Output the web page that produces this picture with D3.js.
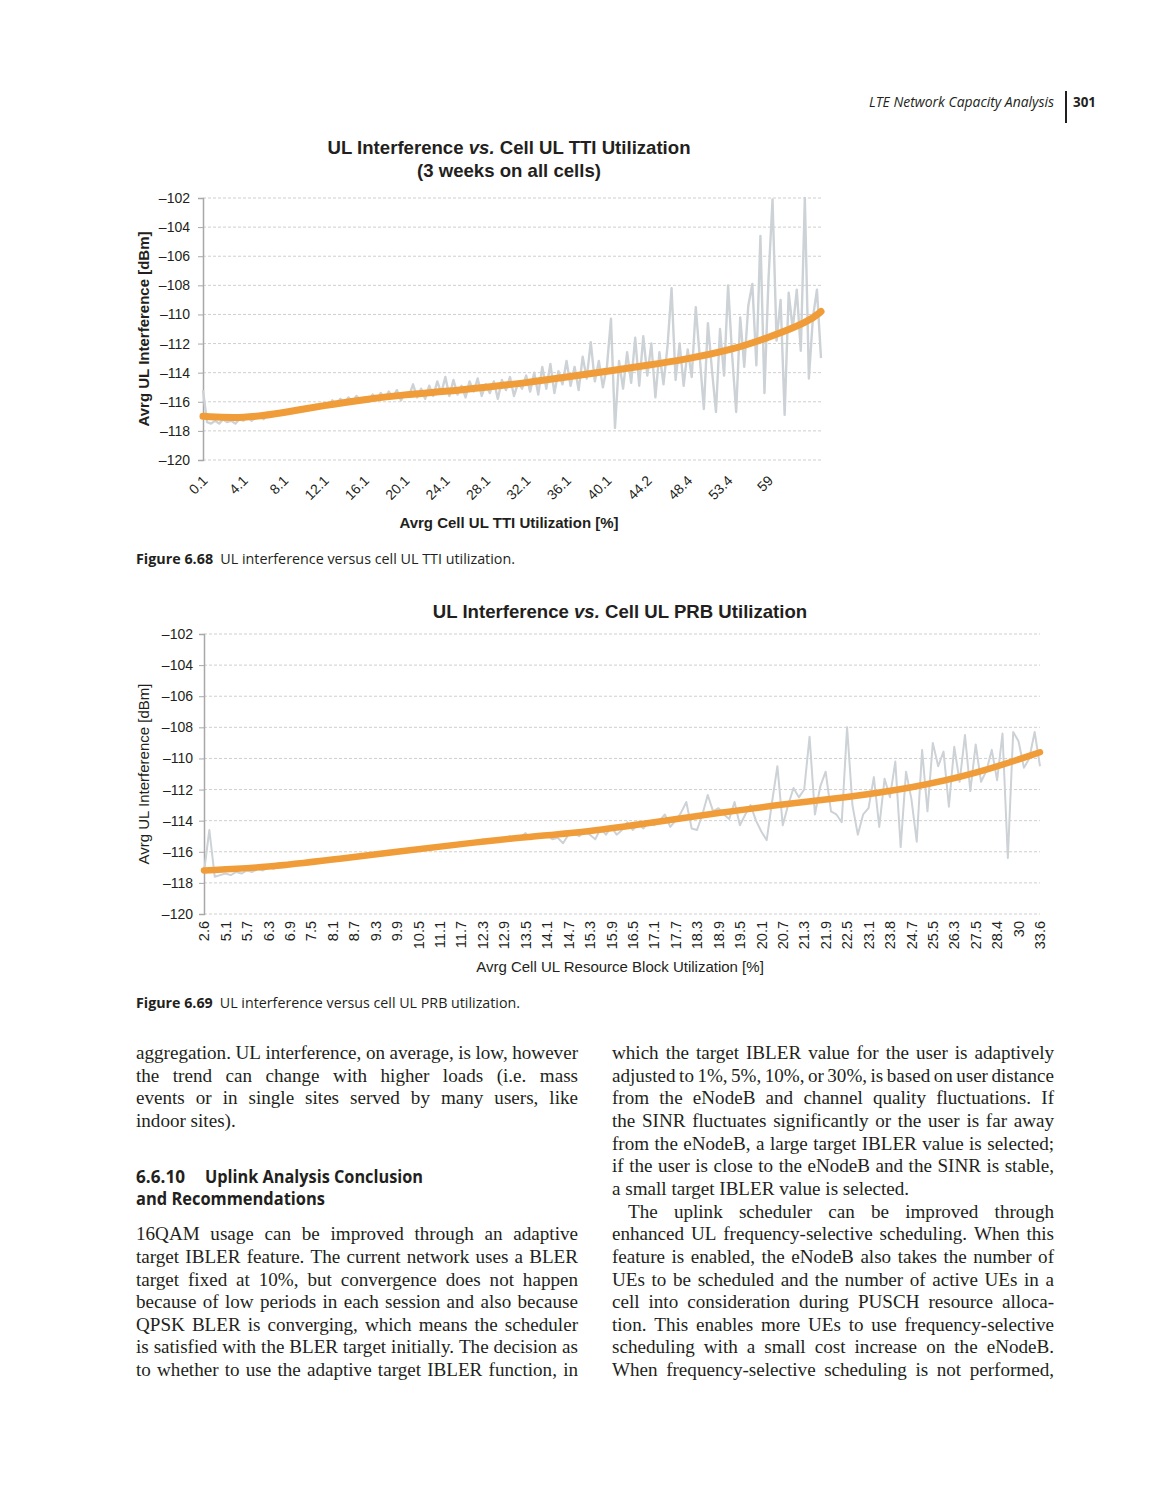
<!DOCTYPE html>
<html>
<head>
<meta charset="utf-8">
<script src="https://cdn.jsdelivr.net/npm/d3@7"></script>
<style>
  body { margin: 0; background: #fff; }
  text { fill: #231f20; }
  .chart text { font-family: "Liberation Sans", Arial, sans-serif; }
  .body { font-family: "Liberation Serif", serif; font-size: 19.1px; }
  .sans { font-family: "Open Sans", sans-serif; }
</style>
</head>
<body>
<svg id="page" width="1161" height="1500"></svg>
<script>
// ---- chart 1: UL interference vs. cell UL TTI utilization ----
const ttiLabels = ["0.1","4.1","8.1","12.1","16.1","20.1","24.1","28.1","32.1","36.1","40.1","44.2","48.4","53.4","59"];
const ttiStep = 10; // samples between two labelled categories
const ttiNoise = [
  -115.2, -117.4, -117.5, -117.3, -117.5, -117.2, -117.4, -117.3, -117.5, -117.2, -117.3,
  -117.0, -117.3, -117.1, -116.9, -117.2, -116.8, -117.0, -116.7, -116.9, -116.6,
  -116.8, -116.5, -116.7, -116.4, -116.6, -116.3, -116.5, -116.2, -116.4, -116.1,
  -116.3, -115.9, -116.2, -115.8, -116.1, -115.7, -116.0, -115.6, -115.9, -115.7,
  -116.0, -115.5, -115.9, -115.4, -115.8, -115.3, -115.7, -115.2, -115.9, -115.4,
  -115.6, -114.8, -115.7, -115.1, -115.8, -114.9, -115.6, -114.6, -115.4, -114.3,
  -115.6, -114.5, -115.5, -114.9, -115.7, -114.6, -115.3, -114.4, -115.6, -114.8,
  -115.4, -114.6, -115.8, -114.5, -115.2, -114.3, -115.6, -114.7, -115.1, -114.2,
  -115.3, -114.0, -115.5, -113.6, -115.1, -113.4, -115.4, -113.9, -114.8, -113.2,
  -114.9, -113.6, -115.2, -112.9, -114.4, -111.9, -114.6, -113.2, -115.0, -113.6,
  -110.3, -117.8,
  -113.2, -115.1, -112.6, -114.7, -111.6, -114.9, -111.5, -114.2, -112.0, -115.7,
  -112.6, -114.8, -112.2, -108.2, -114.5, -112.0, -114.9, -112.4, -114.3, -109.5,
  -113.0, -116.5, -110.6, -113.8, -116.7, -111.0, -114.2, -108.0, -112.8, -116.7,
  -110.2, -113.6, -109.4, -107.9, -113.5, -104.6, -115.4, -107.6, -102.1, -111.8,
  -109.0, -116.9, -108.5, -111.0, -108.3, -112.5, -102.0, -114.4, -110.2, -108.3,
  -113.0
];
const ttiTrendAt = [0, 10, 20, 30, 40, 50, 60, 70, 80, 90, 100, 110, 120, 130, 140, 150, 153];
const ttiTrend = [-117.0, -117.15, -116.75, -116.25, -115.85, -115.5, -115.3, -115.0, -114.7,
                  -114.3, -113.9, -113.5, -113.05, -112.5, -111.6, -110.5, -109.8];

// ---- chart 2: UL interference vs. cell UL PRB utilization ----
const prbLabels = ["2.6","5.1","5.7","6.3","6.9","7.5","8.1","8.7","9.3","9.9","10.5","11.1","11.7","12.3",
                   "12.9","13.5","14.1","14.7","15.3","15.9","16.5","17.1","17.7","18.3","18.9","19.5","20.1",
                   "20.7","21.3","21.9","22.5","23.1","23.8","24.7","25.5","26.3","27.5","28.4","30","33.6"];
const prbStep = 4;
const prbNoise = [
  -117.3, -114.6, -117.6, -117.5, -117.4, -117.5, -117.3, -117.4, -117.2, -117.3, -117.1, -117.2,
  -117.0, -117.1, -116.9, -117.0, -116.8, -116.9, -116.7, -116.8, -116.6, -116.7, -116.5, -116.6,
  -116.4, -116.5, -116.3, -116.4, -116.3, -116.3, -116.2, -116.2, -116.1, -116.2, -116.0, -116.1,
  -115.9, -116.0, -115.8, -115.9, -115.8, -115.7, -115.8, -115.6, -115.7, -115.6, -115.5, -115.6,
  -115.4, -115.5, -115.3, -115.4, -115.2, -115.4, -115.3, -115.1, -115.3, -115.0, -115.2, -115.1,
  -114.8, -115.2, -115.0, -115.1, -114.9, -115.2, -115.1, -115.45, -114.9, -114.8, -115.0, -114.7,
  -114.9, -115.2, -114.5, -114.9, -114.4, -114.9, -114.6, -114.1, -114.6, -114.2, -114.5, -114.1,
  -114.3, -114.0, -113.6, -114.4, -114.0, -113.5, -112.8, -114.5, -114.6, -113.6, -112.35, -113.4,
  -113.2, -113.6, -113.9, -112.8, -114.3, -113.6, -113.0, -114.0, -114.7, -115.25, -112.8, -110.5,
  -114.3, -113.0, -111.9, -112.5, -112.0, -108.6, -113.6, -111.8, -110.85, -113.4, -113.6, -114.1,
  -108.0, -113.0, -114.9, -113.6, -113.2, -111.2, -114.4, -111.3, -112.5, -110.2, -115.7, -110.85,
  -112.6, -115.35, -109.45, -113.4, -109.0, -110.5, -109.56, -113.1, -109.25, -111.5, -108.5, -112.1,
  -109.1, -111.5, -110.8, -109.45, -111.4, -108.4, -116.4, -108.3, -108.9, -110.6, -110.0, -108.3,
  -110.5
];
const prbTrendAt = [0, 12, 24, 36, 48, 60, 72, 84, 96, 108, 120, 132, 144, 156];
const prbTrend = [-117.2, -117.0, -116.5, -116.0, -115.5, -115.05, -114.7, -114.1, -113.5,
                  -112.95, -112.5, -111.9, -111.0, -109.6];

const yTicks = [-102, -104, -106, -108, -110, -112, -114, -116, -118, -120];

const svg = d3.select("#page");
const fmt = d => "\u2013" + Math.abs(d);

function drawChart(o) {
  const g = svg.append("g").attr("class", "chart")
    .attr("transform", "translate(" + o.left + "," + o.top + ")");

  const x = d3.scaleLinear().domain([0, o.noise.length - 1]).range([0, o.width]);
  const y = d3.scaleLinear().domain([-120, -102]).range([o.height, 0]);

  // dashed gridlines
  g.selectAll(".grid").data(yTicks).enter().append("line")
    .attr("x1", 0).attr("x2", o.width)
    .attr("y1", d => y(d)).attr("y2", d => y(d))
    .attr("stroke", "#cfcfcf").attr("stroke-width", 1)
    .attr("stroke-dasharray", "3,2");

  // y axis
  const yAxis = d3.axisLeft(y).tickValues(yTicks).tickFormat(fmt).tickSize(5).tickPadding(6);
  const ya = g.append("g").call(yAxis);
  ya.select(".domain").attr("stroke", "#a8a8a8").attr("stroke-width", 1.5);
  ya.selectAll(".tick line").attr("stroke", "#a8a8a8");
  ya.selectAll(".tick text").style("font-size", "14px").attr("fill", "#231f20")
    .attr("dx", o.yDx);

  // noisy measured line
  const line = d3.line().x((d, i) => x(i)).y(d => y(d));
  g.append("path").datum(o.noise)
    .attr("d", line)
    .attr("fill", "none").attr("stroke", "#cdd2d6").attr("stroke-width", o.noiseWidth)
    .attr("stroke-linejoin", "round");

  // trend
  const trendLine = d3.line().curve(d3.curveBasis)
    .x((d, i) => x(o.trendAt[i])).y(d => y(d));
  g.append("path").datum(o.trend)
    .attr("d", trendLine)
    .attr("fill", "none").attr("stroke", "#f09c38").attr("stroke-width", o.trendWidth)
    .attr("stroke-linecap", "round");

  // category labels
  const lab = g.selectAll(".xl").data(o.labels).enter().append("text")
    .attr("text-anchor", "end")
    .style("font-size", o.labelSize)
    .attr("fill", "#231f20")
    .text(d => d);
  if (o.rotate === 45) {
    lab.attr("transform", (d, i) => "translate(" + (x(i * o.step) + 2) + "," + (o.height + 18) + ") rotate(-45)")
       .attr("dy", "0.35em");
  } else {
    lab.attr("transform", (d, i) => "translate(" + x(i * o.step) + "," + (o.height + 7) + ") rotate(-90)")
       .attr("dy", "0.36em");
  }

  // axis titles
  g.append("text")
    .attr("text-anchor", "middle")
    .attr("transform", "translate(" + (o.yTitleX - o.left) + "," + o.height / 2 + ") rotate(-90)")
    .style("font-size", "15px").style("font-weight", o.bold ? "bold" : "normal")
    .text("Avrg UL Interference [dBm]");
  g.append("text")
    .attr("text-anchor", "middle")
    .attr("x", o.xTitleX - o.left).attr("y", o.xTitleY - o.top)
    .style("font-size", "15px").style("font-weight", o.bold ? "bold" : "normal")
    .text(o.xTitle);
}

drawChart({
  left: 203, top: 198, width: 618, height: 262,
  noise: ttiNoise, trend: ttiTrend, trendAt: ttiTrendAt, trendWidth: 7, noiseWidth: 2.4,
  labels: ttiLabels, step: ttiStep, rotate: 45, labelSize: "14px",
  yDx: -2, yTitleX: 149, bold: true,
  xTitle: "Avrg Cell UL TTI Utilization [%]", xTitleX: 509, xTitleY: 528
});
drawChart({
  left: 204, top: 634, width: 836, height: 280,
  noise: prbNoise, trend: prbTrend, trendAt: prbTrendAt, trendWidth: 6.5, noiseWidth: 2,
  labels: prbLabels, step: prbStep, rotate: 90, labelSize: "14.5px",
  yDx: 0, yTitleX: 149, bold: false,
  xTitle: "Avrg Cell UL Resource Block Utilization [%]", xTitleX: 620, xTitleY: 972
});

// chart titles
function title(cx, yy, before, lines) {
  const t = svg.append("text").attr("class", "chart")
    .attr("text-anchor", "middle").attr("x", cx).attr("y", yy)
    .style("font-family", "'Liberation Sans', Arial, sans-serif")
    .style("font-size", "18.6px").style("font-weight", "bold");
  t.append("tspan").text(before[0]);
  t.append("tspan").style("font-style", "italic").text(before[1]);
  t.append("tspan").text(before[2]);
  lines.forEach(l => {
    svg.append("text").attr("text-anchor", "middle").attr("x", cx).attr("y", l.y)
      .style("font-family", "'Liberation Sans', Arial, sans-serif")
      .style("font-size", "18.6px").style("font-weight", "bold").text(l.t);
  });
}
title(509, 154, ["UL Interference ", "vs.", " Cell UL TTI Utilization"], [{ y: 177, t: "(3 weeks on all cells)" }]);
title(620, 618, ["UL Interference ", "vs.", " Cell UL PRB Utilization"], []);

// running header
svg.append("text").attr("class", "sans").attr("x", 869).attr("y", 107)
  .attr("textLength", 185).attr("lengthAdjust", "spacingAndGlyphs")
  .style("font-size", "14px").style("font-style", "italic").text("LTE Network Capacity Analysis");
svg.append("line").attr("x1", 1066).attr("x2", 1066).attr("y1", 91).attr("y2", 123)
  .attr("stroke", "#231f20").attr("stroke-width", 2);
svg.append("text").attr("class", "sans").attr("x", 1073).attr("y", 107)
  .attr("textLength", 23).attr("lengthAdjust", "spacingAndGlyphs")
  .style("font-size", "14px").style("font-weight", "bold").text("301");

// figure captions
function caption(yy, num, rest, len) {
  const t = svg.append("text").attr("class", "sans").attr("x", 136).attr("y", yy)
    .attr("textLength", len).attr("lengthAdjust", "spacingAndGlyphs")
    .style("font-size", "14.5px");
  t.append("tspan").style("font-weight", "bold").text(num);
  t.append("tspan").text("\u2002" + rest);
}
caption(564, "Figure 6.68", "UL interference versus cell UL TTI utilization.", 379);
caption(1008, "Figure 6.69", "UL interference versus cell UL PRB utilization.", 384);

// body text, justified by hand
function bodyLine(x, yy, w, str, justify) {
  if (!justify) {
    svg.append("text").attr("class", "body").attr("x", x).attr("y", yy).text(str);
    return;
  }
  const words = str.split(" ");
  const widths = words.map(wd => {
    const m = svg.append("text").attr("class", "body").text(wd);
    const l = m.node().getComputedTextLength();
    m.remove();
    return l;
  });
  const gap = (w - d3.sum(widths)) / (words.length - 1);
  let cx = x;
  words.forEach((wd, i) => {
    svg.append("text").attr("class", "body").attr("x", cx).attr("y", yy).text(wd);
    cx += widths[i] + gap;
  });
}

const lead = 22.65, base = 1059;
const leftLines = [
  [0, "aggregation. UL interference, on average, is low, however", true],
  [1, "the trend can change with higher loads (i.e. mass", true],
  [2, "events or in single sites served by many users, like", true],
  [3, "indoor sites).", false],
  [8, "16QAM usage can be improved through an adaptive", true],
  [9, "target IBLER feature. The current network uses a BLER", true],
  [10, "target fixed at 10%, but convergence does not happen", true],
  [11, "because of low periods in each session and also because", true],
  [12, "QPSK BLER is converging, which means the scheduler", true],
  [13, "is satisfied with the BLER target initially. The decision as", true],
  [14, "to whether to use the adaptive target IBLER function, in", true]
];
const rightLines = [
  [0, "which the target IBLER value for the user is adaptively", true],
  [1, "adjusted to 1%, 5%, 10%, or 30%, is based on user distance", true],
  [2, "from the eNodeB and channel quality fluctuations. If", true],
  [3, "the SINR fluctuates significantly or the user is far away", true],
  [4, "from the eNodeB, a large target IBLER value is selected;", true],
  [5, "if the user is close to the eNodeB and the SINR is stable,", true],
  [6, "a small target IBLER value is selected.", false],
  [7, "The uplink scheduler can be improved through", true, 16],
  [8, "enhanced UL frequency-selective scheduling. When this", true],
  [9, "feature is enabled, the eNodeB also takes the number of", true],
  [10, "UEs to be scheduled and the number of active UEs in a", true],
  [11, "cell into consideration during PUSCH resource alloca-", true],
  [12, "tion. This enables more UEs to use frequency-selective", true],
  [13, "scheduling with a small cost increase on the eNodeB.", true],
  [14, "When frequency-selective scheduling is not performed,", true]
];
leftLines.forEach(l => bodyLine(136, base + l[0] * lead, 442, l[1], l[2]));
rightLines.forEach(l => {
  const ind = l[3] || 0;
  bodyLine(612 + ind, base + l[0] * lead, 442 - ind, l[1], l[2]);
});

// section heading
svg.append("text").attr("class", "sans").attr("x", 136).attr("y", 1183)
  .attr("textLength", 49).attr("lengthAdjust", "spacingAndGlyphs")
  .style("font-size", "17px").style("font-weight", "bold").text("6.6.10");
svg.append("text").attr("class", "sans").attr("x", 205).attr("y", 1183)
  .attr("textLength", 218).attr("lengthAdjust", "spacingAndGlyphs")
  .style("font-size", "17px").style("font-weight", "bold").text("Uplink Analysis Conclusion");
svg.append("text").attr("class", "sans").attr("x", 136).attr("y", 1205)
  .attr("textLength", 189).attr("lengthAdjust", "spacingAndGlyphs")
  .style("font-size", "17px").style("font-weight", "bold").text("and Recommendations");
</script>
</body>
</html>
